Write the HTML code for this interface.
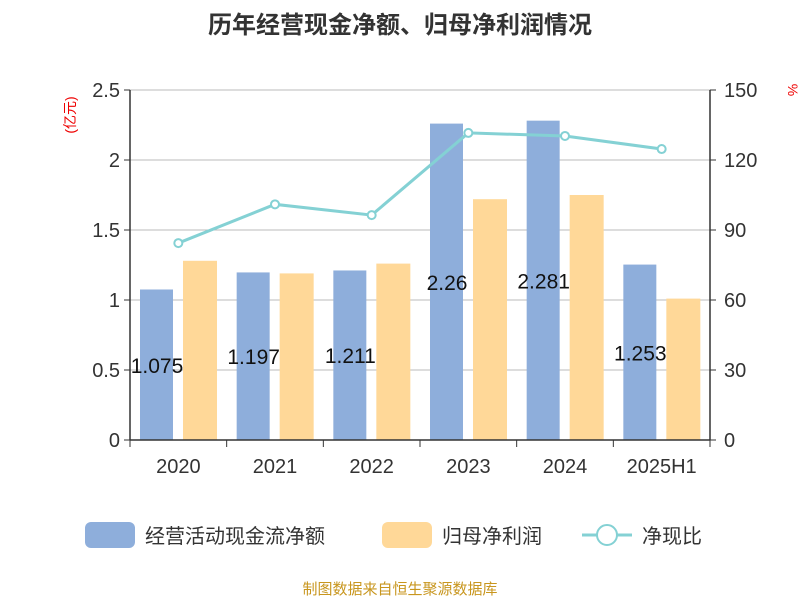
<!DOCTYPE html>
<html><head><meta charset="utf-8"><style>
body{margin:0;background:#fff;}
svg{display:block;font-family:"Liberation Sans","Noto Sans CJK SC",sans-serif;}
</style></head><body>
<svg id="chart" width="800" height="600">
<text x="400" y="33" text-anchor="middle" font-size="24" font-weight="bold" fill="#333">历年经营现金净额、归母净利润情况</text>
<text x="75" y="115" font-size="14" fill="#e00" text-anchor="middle" transform="rotate(-90 75 115)">(亿元)</text>
<text x="788" y="90" font-size="14" fill="#e00" text-anchor="middle" transform="rotate(90 788 90)">%</text>
<g id="grid"></g><g id="bars"></g><g id="line"></g><g id="axes"></g>
<g>
<rect x="85" y="522" width="50" height="26" rx="6" fill="#8eaedb"/>
<text x="145" y="543" font-size="20" fill="#333">经营活动现金流净额</text>
<rect x="382" y="522" width="50" height="26" rx="6" fill="#ffd898"/>
<text x="442" y="543" font-size="20" fill="#333">归母净利润</text>
<line x1="582" y1="535" x2="632" y2="535" stroke="#84d1d4" stroke-width="3"/>
<circle cx="607" cy="535" r="10" fill="#fff" stroke="#84d1d4" stroke-width="2"/>
<text x="642" y="543" font-size="20" fill="#333">净现比</text>
</g>
<text x="400" y="594" text-anchor="middle" font-size="15" fill="#c8961e">制图数据来自恒生聚源数据库</text>
</svg>
<script>
const categories=["2020","2021","2022","2023","2024","2025H1"];
const cashFlow=[1.075,1.197,1.211,2.26,2.281,1.253];
const netProfit=[1.28,1.19,1.26,1.72,1.75,1.01];
const ratio=[84.4,101,96.4,131.6,130.3,124.7];
const leftTicks=["0","0.5","1","1.5","2","2.5"];
const rightTicks=["0","30","60","90","120","150"];
const NS="http://www.w3.org/2000/svg";
const L=130,R=710,T=90,B=440,LMAX=2.5,RMAX=150;
const yL=v=>B-(v/LMAX)*(B-T);
const yR=v=>B-(v/RMAX)*(B-T);
const bw=(R-L)/categories.length;
const xC=i=>L+bw*(i+0.5);
function mk(tag,attrs,parent,text){const e=document.createElementNS(NS,tag);for(const k in attrs)e.setAttribute(k,attrs[k]);if(text!=null)e.textContent=text;document.getElementById(parent).appendChild(e);return e;}
leftTicks.forEach((t,i)=>{const v=parseFloat(t);const y=yL(v);
 const g=mk("line",{x1:L,x2:R,y1:y,y2:y,stroke:"#bbb","stroke-width":1},"grid");
 
 
 const tk=mk("line",{x1:L-6,x2:L,y1:y,y2:y,stroke:"#333"},"axes");
 
 
 const lb=mk("text",{x:L-10,y:y+7,"text-anchor":"end","font-size":20,fill:"#333"},"axes",t);
 
 
});
rightTicks.forEach(t=>{const y=yR(parseFloat(t));
 const tk=mk("line",{x1:R,x2:R+6,y1:y,y2:y,stroke:"#333"},"axes");
 
 
 const lb=mk("text",{x:R+14,y:y+7,"font-size":20,fill:"#333"},"axes",t);
 
 
});
categories.forEach((c,i)=>{
 const x0=L+bw*i;
 const b1=mk("rect",{x:x0+10,y:yL(cashFlow[i]),width:33,height:B-yL(cashFlow[i]),fill:"#8eaedb"},"bars");
 
 
 const b2=mk("rect",{x:x0+53,y:yL(netProfit[i]),width:34,height:B-yL(netProfit[i]),fill:"#ffd898"},"bars");
 
 
 const vl=mk("text",{x:x0+27,y:(yL(cashFlow[i])+B)/2+8,"text-anchor":"middle","font-size":21,fill:"#111"},"bars",String(cashFlow[i]));
 
 
 const tk=mk("line",{x1:x0,x2:x0,y1:B,y2:B+7,stroke:"#333"},"axes");
 
 
 const xl=mk("text",{x:xC(i),y:B+33,"text-anchor":"middle","font-size":20,fill:"#333"},"axes",c);
 
 
});
const et=mk("line",{x1:R,x2:R,y1:B,y2:B+7,stroke:"#333"},"axes");


const xa=mk("line",{x1:L,x2:R,y1:B,y2:B,stroke:"#333","stroke-width":1.5},"axes");


const la=mk("line",{x1:L,x2:L,y1:T,y2:B,stroke:"#333","stroke-width":1.5},"axes");


const ra=mk("line",{x1:R,x2:R,y1:T,y2:B,stroke:"#333","stroke-width":1.5},"axes");


const pl=mk("polyline",{points:ratio.map((v,i)=>xC(i)+","+yR(v)).join(" "),fill:"none",stroke:"#84d1d4","stroke-width":3},"line");


ratio.forEach((v,i)=>{
 const p=mk("circle",{cx:xC(i),cy:yR(v),r:4,fill:"#fff",stroke:"#84d1d4","stroke-width":2},"line");
 
 
});
</script>
</body></html>
